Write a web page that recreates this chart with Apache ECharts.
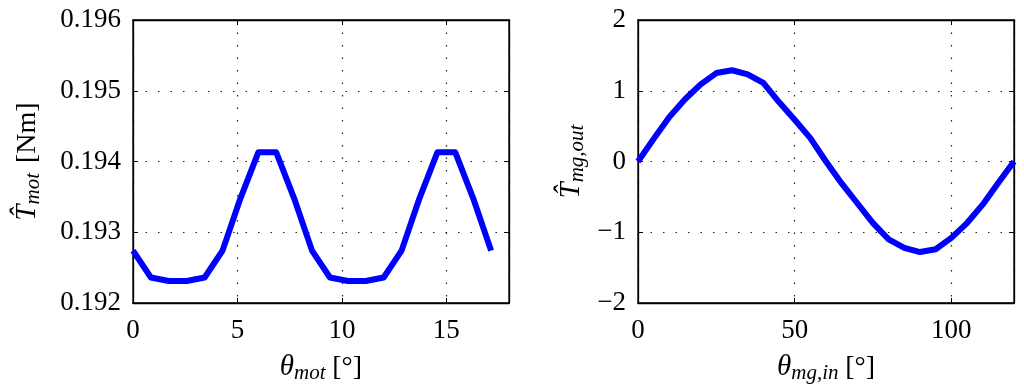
<!DOCTYPE html>
<html><head><meta charset="utf-8">
<script src="https://cdn.jsdelivr.net/npm/echarts@6/dist/echarts.min.js"></script>
<style>html,body{margin:0;padding:0;background:#fff}#c{width:1024px;height:386px}</style>
</head><body><div id="c"></div>
<script>
// Left panel: motor torque vs motor angle
const thetaMot = [0, 0.857, 1.714, 2.571, 3.429, 4.286, 5.143, 6.0, 6.857, 7.714, 8.571,
  9.429, 10.286, 11.143, 12.0, 12.857, 13.714, 14.571, 15.429, 16.286, 17.143];
const torqueMot = [0.19274, 0.19236, 0.19231, 0.19231, 0.19236, 0.19274, 0.19348, 0.19413, 0.19413, 0.19348, 0.19274,
  0.19236, 0.19231, 0.19231, 0.19236, 0.19274, 0.19348, 0.19413, 0.19413, 0.19348, 0.19274];
// Right panel: magnetic gear output torque vs input angle
const thetaMgIn = [0, 5, 10, 15, 20, 25, 30, 35, 40, 45, 50, 55, 60, 65, 70, 75, 80, 85, 90, 95, 100, 105, 110, 115, 120];
const torqueMgOut = [0, 0.32, 0.63, 0.88, 1.09, 1.25, 1.29, 1.23, 1.11, 0.84, 0.59, 0.33, 0,
  -0.31, -0.59, -0.87, -1.10, -1.22, -1.28, -1.24, -1.08, -0.87, -0.61, -0.30, 0];
const leftYTicks = [0.192, 0.193, 0.194, 0.195, 0.196];
const leftXTicks = [0, 5, 10, 15];
const rightYTicks = [-2, -1, 0, 1, 2];
const rightXTicks = [0, 50, 100];

const FONT = 'Liberation Serif';
const black = '#000';
const gridLine = {show: true, lineStyle: {color: '#222', width: 1.2, type: [1.5, 11]}};
const tick = () => ({show: true, inside: true, length: 5, lineStyle: {color: black, width: 1}});
const axLine = () => ({show: true, onZero: false, lineStyle: {color: black, width: 1.3}});
const labelBase = {fontFamily: FONT, fontSize: 27, color: black};
const richName = {
  t: {fontFamily: FONT, fontStyle: 'italic', fontSize: 29, color: black},
  s: {fontFamily: FONT, fontStyle: 'italic', fontSize: 21, color: black, padding: [12, 0, 0, 0]},
  n: {fontFamily: FONT, fontSize: 28, color: black}
};
function tickFmt(list, dec) {
  return v => {
    const hit = list.find(t => Math.abs(t - v) < 1e-9);
    if (hit === undefined) return '';
    const s = dec ? hit.toFixed(dec) : String(hit);
    return s.replace('-', '\u2212');
  };
}
function mainX(grid, min, max, interval, ticks, name) {
  return {type: 'value', gridIndex: grid, min, max, interval, position: 'bottom',
    axisLine: axLine(), axisTick: tick(), splitLine: gridLine,
    axisLabel: Object.assign({margin: 14, formatter: tickFmt(ticks, 0)}, labelBase),
    name, nameLocation: 'middle', nameGap: 48, nameTextStyle: {rich: richName}};
}
function boxX(grid, min, max, interval) {
  return {type: 'value', gridIndex: grid, min, max, interval, position: 'top', show: true,
    axisLine: axLine(), axisTick: tick(), splitLine: {show: false}, axisLabel: {show: false}};
}
function mainY(grid, min, max, interval, ticks, dec, name, gap) {
  return {type: 'value', gridIndex: grid, min, max, interval, position: 'left',
    axisLine: axLine(), axisTick: tick(), splitLine: gridLine,
    axisLabel: Object.assign({margin: 12, formatter: tickFmt(ticks, dec)}, labelBase),
    name, nameLocation: 'middle', nameRotate: 90, nameGap: gap, nameTextStyle: {rich: richName}};
}
function boxY(grid, min, max, interval) {
  return {type: 'value', gridIndex: grid, min, max, interval, position: 'right', show: true,
    axisLine: axLine(), axisTick: tick(), splitLine: {show: false}, axisLabel: {show: false}};
}

const chart = echarts.init(document.getElementById('c'), null, {renderer: 'canvas'});
chart.setOption({
  animation: false,
  backgroundColor: '#fff',
  grid: [
    {left: 133, top: 20, width: 376, height: 283, containLabel: false, outerBoundsMode: 'none',
      show: true, borderColor: black, borderWidth: 1.3, backgroundColor: 'transparent'},
    {left: 638, top: 20, width: 376, height: 283, containLabel: false, outerBoundsMode: 'none',
      show: true, borderColor: black, borderWidth: 1.3, backgroundColor: 'transparent'}
  ],
  xAxis: [
    mainX(0, 0, 18, 5, leftXTicks, '{t|\u03B8}{s|mot}  {n|[\u00B0]}'),
    boxX(0, 0, 18, 5),
    mainX(1, 0, 120, 50, rightXTicks, '{t|\u03B8}{s|mg,in}  {n|[\u00B0]}'),
    boxX(1, 0, 120, 50)
  ],
  yAxis: [
    mainY(0, 0.192, 0.196, 0.001, leftYTicks, 3, '{t|T\u0302}{s|mot}   {n|[Nm]}', 89),
    boxY(0, 0.192, 0.196, 0.001),
    mainY(1, -2, 2, 1, rightYTicks, 0, '{t|T\u0302}{s|mg,out}', 50),
    boxY(1, -2, 2, 1)
  ],
  series: [
    {type: 'line', xAxisIndex: 0, yAxisIndex: 0, showSymbol: false, symbol: 'none',
      lineStyle: {color: '#0000ff', width: 6, join: 'round'},
      data: thetaMot.map((x, i) => [x, torqueMot[i]])},
    {type: 'line', xAxisIndex: 2, yAxisIndex: 2, showSymbol: false, symbol: 'none',
      lineStyle: {color: '#0000ff', width: 6, join: 'round'},
      data: thetaMgIn.map((x, i) => [x, torqueMgOut[i]])}
  ]
});
</script></body></html>
